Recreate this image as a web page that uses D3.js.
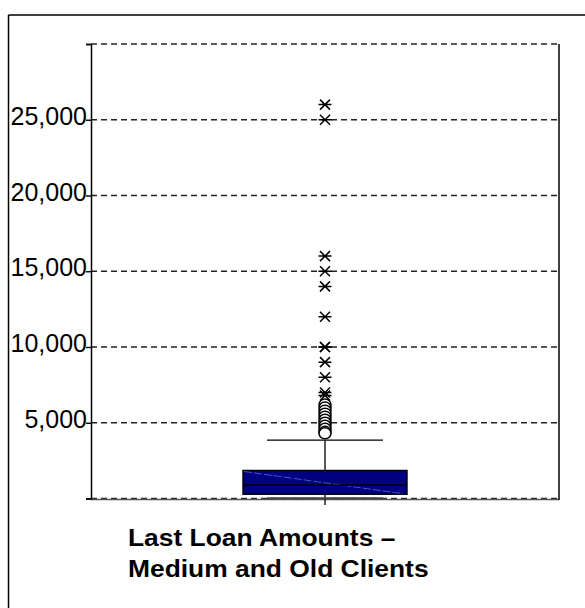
<!DOCTYPE html>
<html>
<head>
<meta charset="utf-8">
<script src="https://cdn.jsdelivr.net/npm/d3@7"></script>
<style>
  html, body { margin: 0; padding: 0; background: #fff; }
  svg { display: block; }
  text { font-family: "Liberation Sans", Arial, Helvetica, sans-serif; fill: #000; }
</style>
</head>
<body>
<svg id="chart" width="585" height="608"></svg>
<script>
// ---- data ----
const categories = ["Last Loan Amounts – Medium and Old Clients"];
const titleLines = ["Last Loan Amounts –", "Medium and Old Clients"];
const boxStats = { whiskerLow: 20, q1: 280, median: 870, q3: 1850, whiskerHigh: 3850 };
const outlierCircles = [6200, 6000, 5800, 5600, 5400, 5200, 5000, 4800, 4600, 4400, 4300];
const extremeStars = [26000, 25000, 16000, 15000, 14000, 12000, 10000, 10000, 9000, 8000, 7000, 6800];
const tickValues = [0, 5000, 10000, 15000, 20000, 25000, 30000];
const yDomain = [0, 30000];

// ---- layout ----
const svg = d3.select("#chart");
const plot = { left: 91, right: 559, top: 44, bottom: 498.5 };

const y = d3.scaleLinear().domain(yDomain).range([plot.bottom, plot.top]);
const x = d3.scaleBand().domain(categories).range([plot.left, plot.right]);
const cx = x(categories[0]) + x.bandwidth() / 2;

// outer frame (only top/left visible)
svg.append("line").attr("x1", 8.5).attr("x2", 585).attr("y1", 15).attr("y2", 15)
  .attr("stroke", "#000").attr("stroke-width", 1.5);
svg.append("line").attr("x1", 8.5).attr("x2", 8.5).attr("y1", 15).attr("y2", 608)
  .attr("stroke", "#000").attr("stroke-width", 1.5);

// gridlines
svg.append("g").selectAll("line").data(tickValues).join("line")
  .attr("x1", plot.left).attr("x2", plot.right)
  .attr("y1", d => y(d)).attr("y2", d => y(d))
  .attr("stroke", "#222").attr("stroke-width", 1.4)
  .attr("stroke-dasharray", "6,4");

// bottom solid base line
svg.append("line").attr("x1", plot.left).attr("x2", plot.right)
  .attr("y1", y(0) + 1).attr("y2", y(0) + 1)
  .attr("stroke", "#555").attr("stroke-width", 1.5);

// right edge
svg.append("line").attr("x1", plot.right).attr("x2", plot.right)
  .attr("y1", plot.top).attr("y2", y(0) + 1.5)
  .attr("stroke", "#000").attr("stroke-width", 1.5);

// y axis
const yAxis = d3.axisLeft(y).tickValues(tickValues).tickSize(5).tickPadding(0)
  .tickFormat(d => (d === 0 || d === 30000) ? "" : d3.format(",")(d));
const gy = svg.append("g").attr("transform", `translate(${plot.left},0)`).call(yAxis);
gy.select(".domain").attr("stroke", "#000").attr("stroke-width", 1.5);
gy.selectAll(".tick line").attr("stroke", "#000").attr("stroke-width", 1.4);
gy.selectAll(".tick text")
  .attr("font-size", 25).attr("font-family", "Liberation Sans, Arial, sans-serif")
  .attr("fill", "#000").attr("x", -4).attr("dy", "0.18em");

// x tick at category centre
svg.append("line").attr("x1", cx).attr("x2", cx)
  .attr("y1", y(boxStats.q1)).attr("y2", y(0) + 6.5)
  .attr("stroke", "#000").attr("stroke-width", 1.3);

const boxW = 164, capW = 116;

// whisker (upper)
svg.append("line").attr("x1", cx).attr("x2", cx)
  .attr("y1", y(boxStats.q3)).attr("y2", y(boxStats.whiskerHigh))
  .attr("stroke", "#000").attr("stroke-width", 1.3);
svg.append("line").attr("x1", cx - capW / 2).attr("x2", cx + capW / 2)
  .attr("y1", y(boxStats.whiskerHigh)).attr("y2", y(boxStats.whiskerHigh))
  .attr("stroke", "#000").attr("stroke-width", 1.4);
// lower cap
svg.append("line").attr("x1", cx - capW / 2).attr("x2", cx + capW / 2)
  .attr("y1", y(boxStats.whiskerLow)).attr("y2", y(boxStats.whiskerLow))
  .attr("stroke", "#444").attr("stroke-width", 2);

// box
svg.append("rect")
  .attr("x", cx - boxW / 2).attr("width", boxW)
  .attr("y", y(boxStats.q3)).attr("height", y(boxStats.q1) - y(boxStats.q3))
  .attr("fill", "#000080").attr("stroke", "#000").attr("stroke-width", 1.4);
// diagonal artefact
svg.append("line")
  .attr("x1", cx - boxW / 2 + 1).attr("y1", y(boxStats.q3) + 1)
  .attr("x2", cx + boxW / 2 - 4).attr("y2", y(boxStats.q1) - 0.5)
  .attr("stroke", "#4a5cc8").attr("stroke-width", 0.9).attr("stroke-dasharray", "8,2");
// median
svg.append("line").attr("x1", cx - boxW / 2).attr("x2", cx + boxW / 2)
  .attr("y1", y(boxStats.median)).attr("y2", y(boxStats.median))
  .attr("stroke", "#000").attr("stroke-width", 1.4);

// outlier circles
svg.append("g").selectAll("ellipse").data(outlierCircles).join("ellipse")
  .attr("cx", cx).attr("cy", d => y(d)).attr("rx", 6).attr("ry", 5.5)
  .attr("fill", "#fff").attr("stroke", "#000").attr("stroke-width", 1.5);

// extreme stars
const starPath = "M-5,-5L5,5M-5,5L5,-5M-6.5,0L6.5,0";
svg.append("g").selectAll("path").data(extremeStars).join("path")
  .attr("transform", d => `translate(${cx},${y(d)})`)
  .attr("d", starPath).attr("fill", "none")
  .attr("stroke", "#000").attr("stroke-width", 1.5);

// title (category label)
svg.append("g").selectAll("text").data(titleLines).join("text")
  .attr("transform", (d, i) => `translate(128,${546 + i * 31}) scale(1.1,1)`)
  .attr("font-size", 24).attr("font-weight", "bold")
  .text(d => d);
</script>
</body>
</html>
